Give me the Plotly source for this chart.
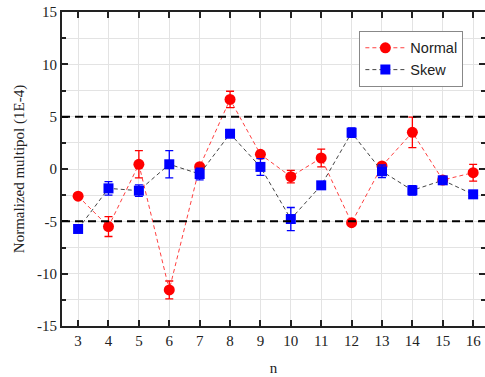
import plotly.graph_objects as go

n = [3, 4, 5, 6, 7, 8, 9, 10, 11, 12, 13, 14, 15, 16]
normal = [-2.6, -5.5, 0.45, -11.55, 0.22, 6.65, 1.4, -0.73, 1.05, -5.13, 0.29, 3.5, -1.05, -0.35]
normal_err = [0.1, 0.95, 1.3, 0.85, 0.15, 0.78, 0.2, 0.6, 0.85, 0.1, 0.15, 1.45, 0.1, 0.8]
skew = [-5.73, -1.85, -2.07, 0.45, -0.48, 3.37, 0.2, -4.78, -1.56, 3.47, -0.22, -2.04, -1.08, -2.42]
skew_err = [0.1, 0.65, 0.55, 1.3, 0.55, 0.1, 0.8, 1.1, 0.1, 0.45, 0.6, 0.45, 0.1, 0.1]
limits = [5, -5]
y_tick_vals = [-15, -10, -5, 0, 5, 10, 15]
y_tick_labels = ["-15", "-10", "-5", "0", "5", "10", "15"]

fig = go.Figure()

for lim in limits:
    fig.add_hline(y=lim, line=dict(color="black", width=2, dash="8px,5px"), layer="above")

fig.add_trace(go.Scatter(
    x=n, y=normal, name="Normal", mode="lines+markers",
    line=dict(color="#ff4040", width=1, dash="4px,3px"),
    marker=dict(symbol="circle", size=11, color="#ff0000"),
    error_y=dict(type="data", array=normal_err, color="#ff0000", thickness=1.3, width=4),
))
fig.add_trace(go.Scatter(
    x=n, y=skew, name="Skew", mode="lines+markers",
    line=dict(color="#444444", width=1, dash="4px,3px"),
    marker=dict(symbol="square", size=10, color="#0000ff"),
    error_y=dict(type="data", array=skew_err, color="#0000ff", thickness=1.3, width=4),
))

fig.update_layout(
    width=485, height=377,
    margin=dict(l=62, r=0, t=12, b=51),
    plot_bgcolor="white", paper_bgcolor="white",
    font=dict(family="Liberation Serif", size=14, color="#222"),
    legend=dict(
        x=0.703, y=0.94, xanchor="left", yanchor="top",
        bgcolor="white", bordercolor="#888", borderwidth=1,
        font=dict(family="Liberation Sans", size=14.5, color="#222"),
        tracegroupgap=0, itemwidth=40,
    ),
    showlegend=True,
)

fig.update_xaxes(
    range=[2.47, 16.39], tickvals=n, ticktext=[str(v) for v in n],
    automargin=False,
    showgrid=True, gridcolor="#e3e3e3", gridwidth=1,
    showline=True, linecolor="#222", linewidth=2, mirror="ticks",
    ticks="inside", ticklen=6, tickwidth=1.5, tickcolor="#222",
    zeroline=False,
    title=dict(text="n", standoff=14, font=dict(family="Liberation Serif", size=15)),
    tickfont=dict(family="Liberation Serif", size=15),
)
fig.update_yaxes(
    range=[-15, 15], tickvals=y_tick_vals, ticktext=y_tick_labels,
    automargin=False,
    showgrid=True, gridcolor="#e3e3e3", gridwidth=1,
    showline=True, linecolor="#222", linewidth=2, mirror="ticks",
    ticks="inside", ticklen=6, tickwidth=1.5, tickcolor="#222",
    zeroline=False,
    minor=dict(dtick=2.5, tick0=0, ticks="inside", ticklen=4, tickcolor="#222",
               showgrid=True, gridcolor="#e3e3e3", gridwidth=1),
    title=dict(text="Normalized multipol (1E-4)", standoff=9,
               font=dict(family="Liberation Serif", size=15)),
    tickfont=dict(family="Liberation Serif", size=15),
)

fig.write_html("out.html", post_script="document.body.style.margin='0';",
               config={"displayModeBar": False})
